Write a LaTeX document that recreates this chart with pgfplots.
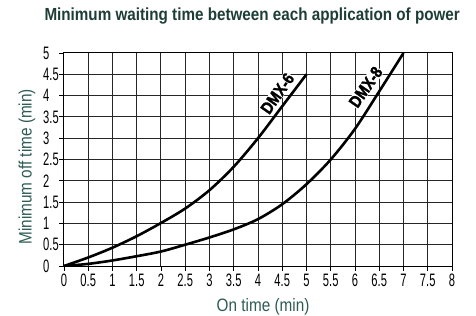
\documentclass[border=0pt]{standalone}
\usepackage{pgfplots}
\pgfplotsset{compat=1.18}
\usepackage{fontspec}
\setmainfont{Liberation Sans}
\newfontfamily\tickfont[FakeStretch=0.62]{Liberation Sans}
\newfontfamily\labfont[FakeStretch=0.85]{Liberation Sans}
\newfontfamily\titlefont[FakeStretch=0.87]{Liberation Sans}
\newfontfamily\curvefont[FakeStretch=0.85, FakeBold=1.5]{Liberation Sans Bold}
\definecolor{titlecol}{HTML}{1E3D36}
\definecolor{labcol}{HTML}{2E5B54}
\begin{document}
\begin{tikzpicture}
\begin{axis}[
  scale only axis, width=388bp, height=213bp,
  xmin=0, xmax=8, ymin=0, ymax=5,
  xtick={0,0.5,1,1.5,2,2.5,3,3.5,4,4.5,5,5.5,6,6.5,7,7.5,8},
  xticklabels={0,0.5,1,1.5,2,2.5,3,3.5,4,4.5,5,5.5,6,6.5,7,7.5,8},
  ytick={0,0.5,1,1.5,2,2.5,3,3.5,4,4.5,5},
  yticklabels={0,0.5,1,1.5,2,2.5,3,3.5,4,4.5,5},
  tick align=outside, major tick length=5bp,
  xtick pos=bottom, ytick pos=left,
  tick style={black, line width=0.9bp},
  grid=major,
  major grid style={black!85, line width=1bp},
  axis line style={black, line width=1bp},
  xticklabel style={font=\tickfont\fontsize{18bp}{18bp}\selectfont, inner sep=0pt, anchor=north, yshift=-3bp},
  yticklabel style={font=\tickfont\fontsize{18bp}{18bp}\selectfont, inner sep=0pt, anchor=west, xshift=-16bp},
  title={Minimum waiting time between each application of power},
  title style={font=\titlefont\bfseries\fontsize{17.5bp}{17.5bp}\selectfont, text=titlecol, at={(rel axis cs:0.485,1.1268)}, anchor=base},
  xlabel={On time (min)},
  xlabel style={font=\labfont\fontsize{18bp}{18bp}\selectfont, text=labcol, at={(rel axis cs:0.513,-0.2113)}, anchor=base},
  ylabel={Minimum off time (min)},
  ylabel style={font=\labfont\fontsize{18bp}{18bp}\selectfont, text=labcol, at={(rel axis cs:-0.0954,0.466)}, anchor=center},
]
\addplot[black, line width=2.6bp, smooth] coordinates {
(0,0) (0.5,0.2) (1,0.43) (1.5,0.7) (2,1.01) (2.5,1.35) (3,1.78) (3.5,2.33) (4,3.0) (4.5,3.75) (5,4.5)};
\addplot[black, line width=2.6bp, smooth] coordinates {
(0,0) (0.5,0.05) (1,0.13) (1.5,0.23) (2,0.34) (2.5,0.5) (3,0.67) (3.5,0.86) (4,1.1) (4.5,1.45) (5,1.92) (5.5,2.5) (6,3.22) (6.5,4.1) (7,5)};
\node[rotate=55, fill=white, inner sep=0.5bp, font=\curvefont\fontsize{17bp}{17bp}\selectfont] at (axis cs:4.40,4.05) {DMX-6};
\node[rotate=55, fill=white, inner sep=0.5bp, font=\curvefont\fontsize{17bp}{17bp}\selectfont] at (axis cs:6.22,4.2) {DMX-8};
\coordinate (sw) at (rel axis cs:0,0);
\end{axis}
\pgfresetboundingbox
\path (sw) ++(-64bp,-50bp) rectangle ++(476bp,316bp);
\end{tikzpicture}
\end{document}
